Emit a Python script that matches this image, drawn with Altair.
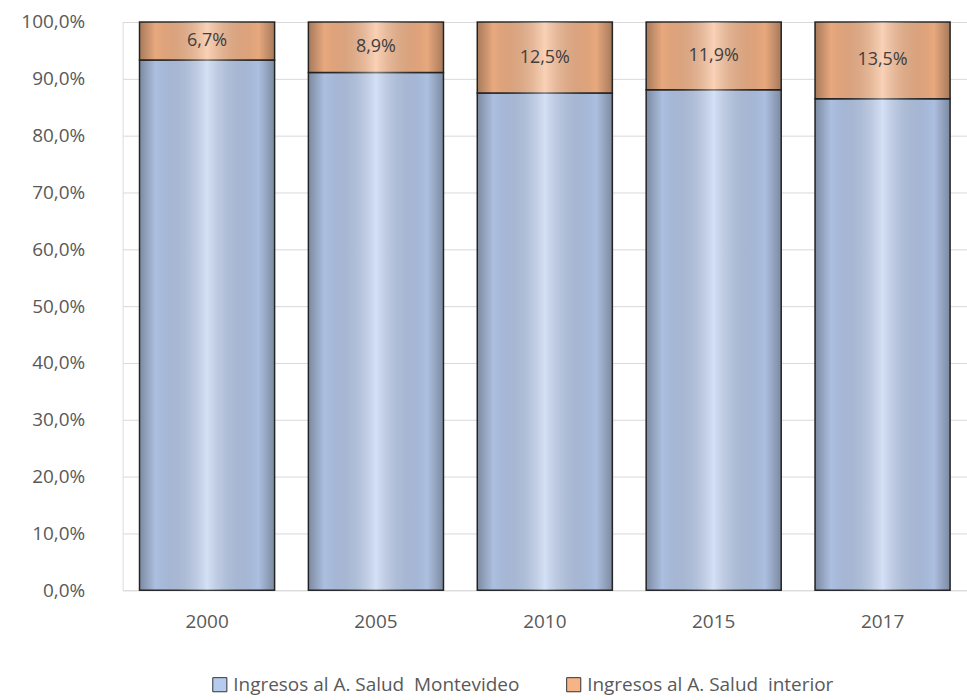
import altair as alt
import pandas as pd

years = ["2000", "2005", "2010", "2015", "2017"]
interior = [6.7, 8.9, 12.5, 11.9, 13.5]
montevideo = [round(100 - v, 1) for v in interior]
series = ["Ingresos al A. Salud \u00a0Montevideo", "Ingresos al A. Salud \u00a0interior"]
colors = ["#b7cbee", "#f6b386"]

rows = []
for y, m, i in zip(years, montevideo, interior):
    rows.append({"year": y, "serie": series[0], "value": m, "order": 0})
    rows.append({"year": y, "serie": series[1], "value": i, "order": 1})
df = pd.DataFrame(rows)

lab = pd.DataFrame({
    "year": years,
    "interior": interior,
    "mid": [100 - v / 2 for v in interior],
    "label": [f"{v:.1f}".replace(".", ",") + "%" for v in interior],
})

FONT = "Open Sans"
GREY = "#595959"

x_enc = alt.X("year:N", sort=years, title=None,
              scale=alt.Scale(paddingInner=0.2, paddingOuter=0.1),
              axis=alt.Axis(labelFont=FONT, labelFontSize=19, labelColor=GREY,
                            labelPadding=22, ticks=False, domain=False, labelAngle=0))

bars = alt.Chart(df).mark_bar(stroke="#2b2b2b", strokeWidth=1.5).encode(
    x=x_enc,
    y=alt.Y("value:Q", stack="zero", title=None,
            scale=alt.Scale(domain=[0, 100]),
            axis=alt.Axis(values=list(range(0, 101, 10)),
                          labelExpr="replace(format(datum.value, '.1f'), '.', ',') + '%'",
                          labelFont=FONT, labelFontSize=19, labelColor=GREY,
                          labelPadding=38, ticks=False, domain=False,
                          grid=True, gridColor="#d9d9d9")),
    color=alt.Color("serie:N", sort=series, title=None,
                    scale=alt.Scale(domain=series, range=colors),
                    legend=alt.Legend(orient="none", legendX=88, legendY=655,
                                      direction="horizontal",
                                      symbolType="square", symbolSize=200,
                                      symbolStrokeColor="#333333", symbolStrokeWidth=1,
                                      labelFont=FONT, labelFontSize=19, labelColor=GREY,
                                      columnPadding=45, labelLimit=500)),
    order=alt.Order("order:Q"),
)

shade = alt.Chart(lab).mark_bar(
    color=alt.LinearGradient(
        gradient="linear", x1=0, x2=1, y1=0, y2=0,
        stops=[
            alt.GradientStop(offset=0, color="rgba(0,0,0,0.32)"),
            alt.GradientStop(offset=0.12, color="rgba(0,0,0,0.06)"),
            alt.GradientStop(offset=0.5, color="rgba(255,255,255,0.40)"),
            alt.GradientStop(offset=0.88, color="rgba(0,0,0,0.06)"),
            alt.GradientStop(offset=1, color="rgba(0,0,0,0.32)"),
        ],
    )
).encode(
    x=alt.X("year:N", sort=years),
    y=alt.Y("zero:Q"),
    y2=alt.Y2("top:Q"),
).transform_calculate(zero="0", top="100")

text = alt.Chart(lab).mark_text(font=FONT, fontSize=18, color="#404040").encode(
    x=alt.X("year:N", sort=years),
    y=alt.Y("mid:Q"),
    text="label:N",
)

chart = alt.layer(bars, shade, text).properties(
    width=847, height=570,
    padding={"left": 20, "top": 12, "right": 0, "bottom": 0},
).configure_view(stroke=None).configure(background="white")

chart.save("out.html", embed_options={"renderer": "svg", "actions": False})
